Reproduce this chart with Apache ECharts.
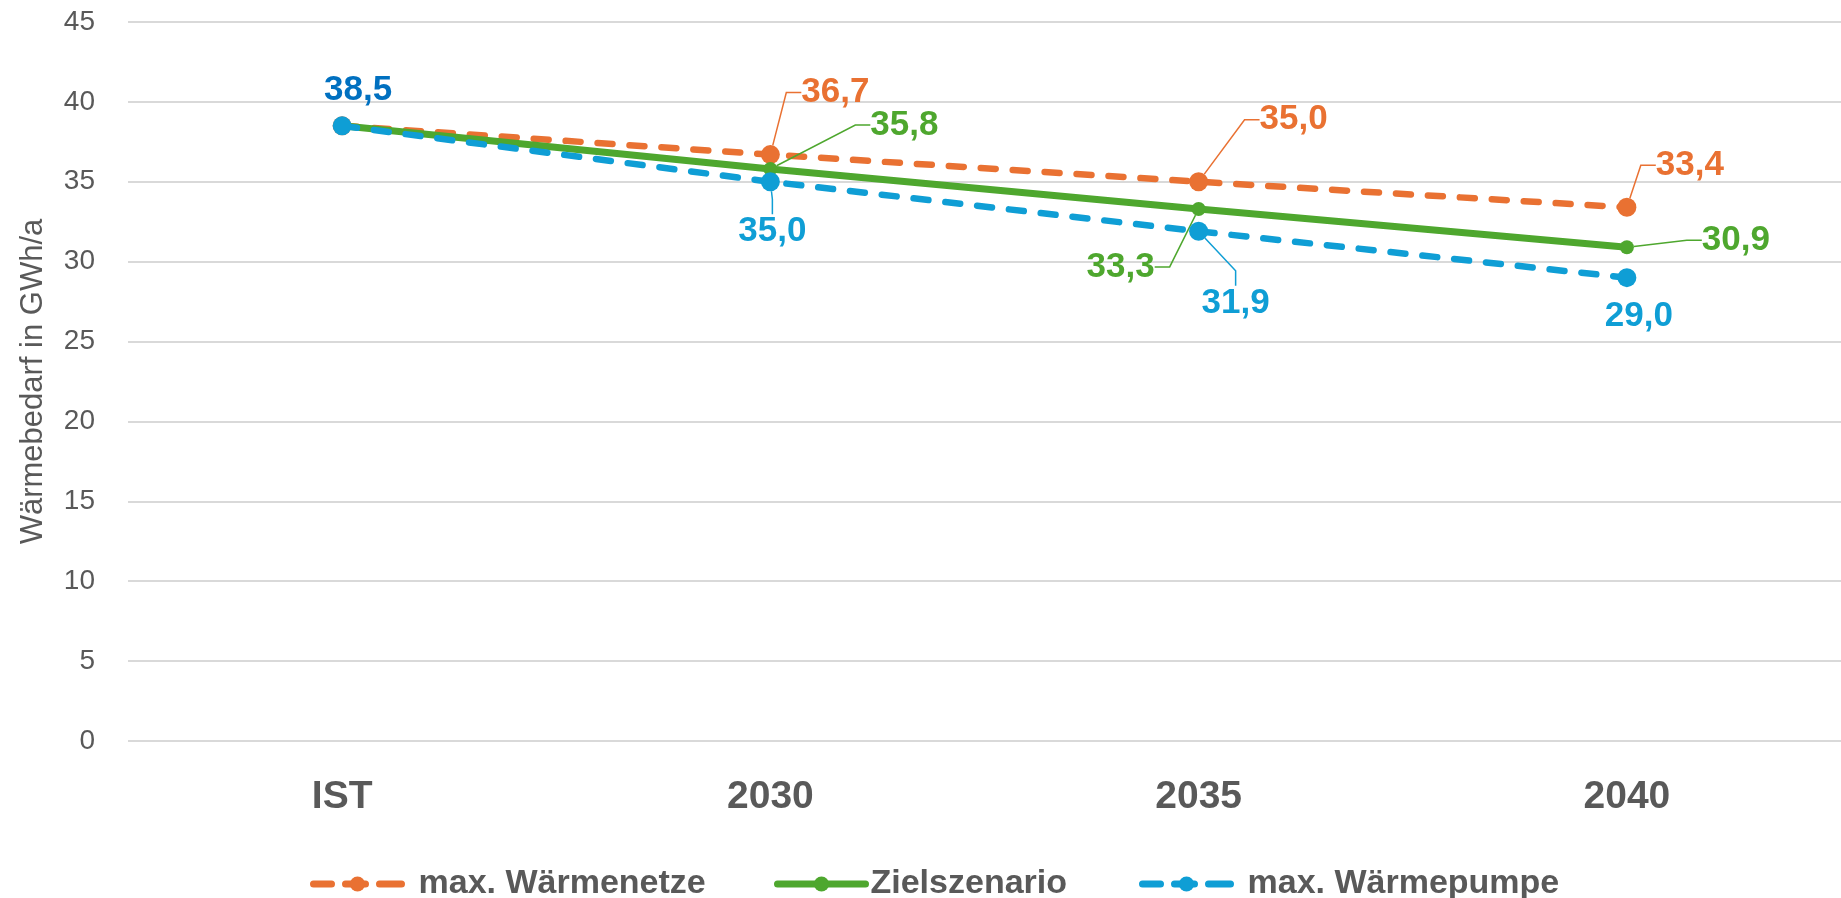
<!DOCTYPE html>
<html><head><meta charset="utf-8">
<script src="https://cdn.jsdelivr.net/npm/echarts@6/dist/echarts.min.js"></script>
<style>html,body{margin:0;padding:0;background:#fff}#c{width:1841px;height:898px}</style>
</head><body><div id="c"></div>
<script>
// ---- data ----
const categories = ['IST', '2030', '2035', '2040'];
const seriesNames = ['max. Wärmenetze', 'Zielszenario', 'max. Wärmepumpe'];
const waermenetze = [38.5, 36.7, 35.0, 33.4];
const zielszenario = [38.5, 35.8, 33.3, 30.9];
const waermepumpe = [38.5, 35.0, 31.9, 29.0];
const yMin = 0, yMax = 45, yInterval = 5;
const yAxisName = 'Wärmebedarf in GWh/a';

// ---- styling / layout (not data) ----
const colors = ['#E97132', '#4EA72E', '#0F9ED5'];
const istLabelColor = '#0070C0';
const FONT = '"Liberation Sans", Arial, sans-serif';
// label centre offsets relative to the data point (null = hidden label)
const labelOffsets = [
  [[16, -36], [65, -62], [95, -62], [63, -42]],
  [null, [134, -44], [-78, 58], [109, -7]],
  [null, [2, 50], [37, 72], [12, 39]]
];
const noLeader = [[true, false, false, false], [true, false, false, false], [true, false, false, true]];

function fmt(v) { return v.toFixed(1).replace('.', ','); }

function buildData(values, si) {
  return values.map((v, i) => {
    const off = labelOffsets[si][i];
    const item = { value: v };
    if (!off) {
      item.label = { show: false };
      item.labelLine = { show: false };
    } else {
      item.label = { show: true, offset: off };
      if (si === 0 && i === 0) item.label.color = istLabelColor;
      if (noLeader[si][i]) item.labelLine = { show: false };
    }
    return item;
  });
}

const seriesValues = [waermenetze, zielszenario, waermepumpe];
const lineWidths = [6.5, 7, 6.5];
const lineTypes = [[15, 17], 'solid', [15, 17]];
const legendLineTypes = [[18, 14, 20, 14, 22], 'solid', [18, 14, 20, 14, 22]];
const symbolSizes = [19, 14, 19];

const series = seriesValues.map((vals, si) => ({
  name: seriesNames[si],
  type: 'line',
  data: buildData(vals, si),
  symbol: 'circle',
  symbolSize: symbolSizes[si],
  showSymbol: true,
  z: 2 + si,
  lineStyle: { color: colors[si], width: lineWidths[si], type: lineTypes[si], cap: 'round' },
  itemStyle: { color: colors[si] },
  label: {
    show: true,
    position: 'inside',
    align: 'center',
    verticalAlign: 'middle',
    formatter: p => fmt(p.value),
    fontFamily: FONT,
    fontSize: 35,
    fontWeight: 'bold',
    color: colors[si],
    padding: [3, 11]
  },
  labelLine: { show: true, length2: 15, lineStyle: { width: 1.5, color: colors[si] } },
  emphasis: { disabled: true }
}));

const legendLefts = [305, 769, 1134];
const legendPads = [[0, 0, 0, 12], [0, 0, 0, 0], [0, 0, 0, 12]];
const legends = seriesNames.map((n, i) => ({
  data: [n],
  left: legendLefts[i],
  top: 862,
  itemWidth: 88,
  itemHeight: 19,
  selectedMode: false,
  lineStyle: { width: 7, type: legendLineTypes[i], cap: 'round', color: colors[i] },
  textStyle: { fontFamily: FONT, fontSize: 34, fontWeight: 'bold', color: '#595959', padding: legendPads[i] }
}));

const chart = echarts.init(document.getElementById('c'), null, { renderer: 'canvas' });
chart.setOption({
  animation: false,
  backgroundColor: '#fff',
  color: colors,
  grid: { left: 128, top: 22, width: 1720, height: 719, containLabel: false },
  legend: legends,
  xAxis: {
    type: 'category',
    data: categories,
    boundaryGap: true,
    axisLine: { show: false },
    axisTick: { show: false },
    axisLabel: { margin: 37, fontFamily: FONT, fontSize: 39, fontWeight: 'bold', color: '#595959' }
  },
  yAxis: {
    type: 'value',
    min: yMin, max: yMax, interval: yInterval,
    name: yAxisName,
    nameLocation: 'middle',
    nameGap: 79,
    nameTextStyle: { fontFamily: FONT, fontSize: 31, color: '#595959' },
    axisLine: { show: false },
    axisTick: { show: false },
    axisLabel: { margin: 33, fontFamily: FONT, fontSize: 28, color: '#595959' },
    splitLine: { lineStyle: { color: '#D9D9D9', width: 2 } }
  },
  series: series
});
</script>
</body></html>
